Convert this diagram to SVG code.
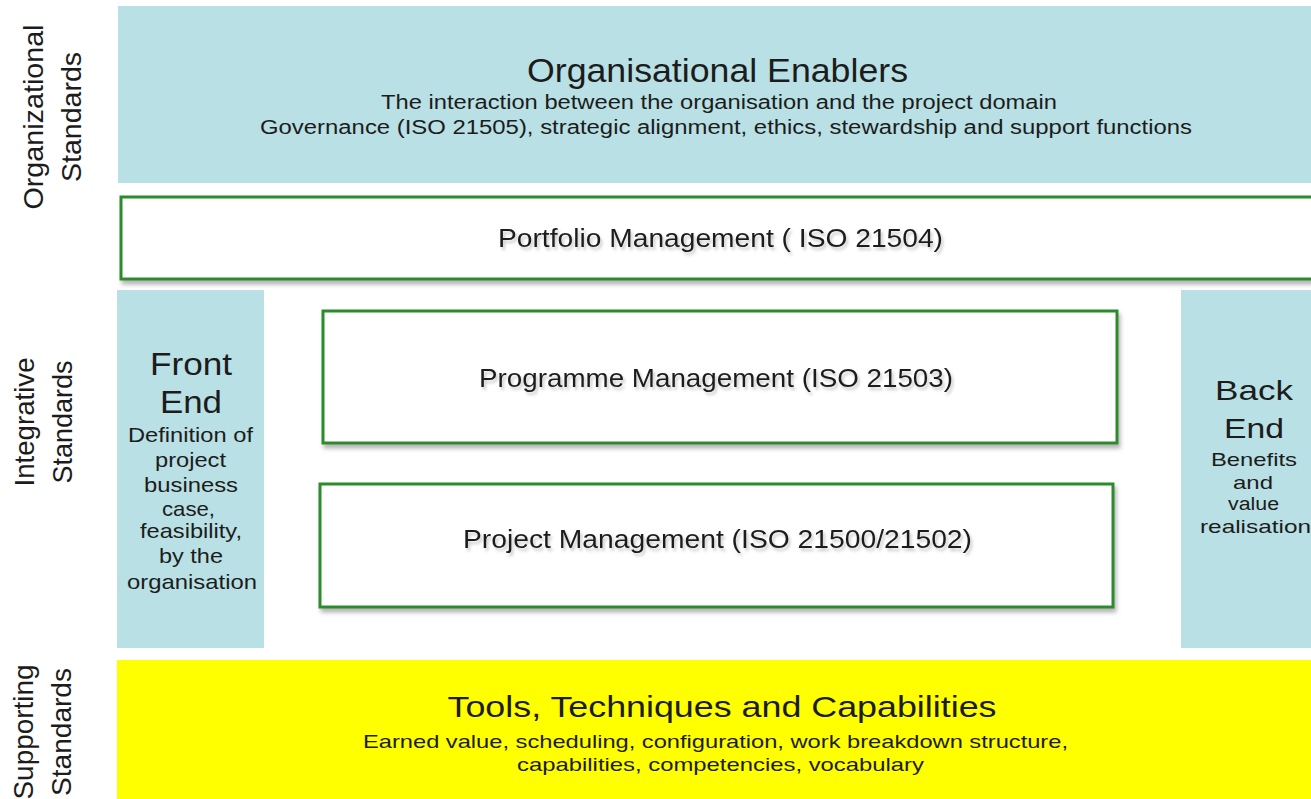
<svg xmlns="http://www.w3.org/2000/svg" width="1311" height="799" viewBox="0 0 1311 799">
<defs>
<style>
text{font-family:"Liberation Sans",Arial,sans-serif;fill:#1c1c1c;text-anchor:middle}
.blue{fill:#b9e0e4}
.yellow{fill:#ffff00}
.green{fill:#ffffff;stroke:#2a8c2a;stroke-width:3}
.side{font-size:28px}
.sh{filter:url(#tsh)}
</style>
<filter id="bsh" x="-5%" y="-20%" width="112%" height="150%">
<feDropShadow dx="2" dy="4" stdDeviation="2" flood-color="#777" flood-opacity="0.55"/>
</filter>
<filter id="tsh" x="-5%" y="-30%" width="110%" height="170%">
<feDropShadow dx="2" dy="3" stdDeviation="1.5" flood-color="#666" flood-opacity="0.35"/>
</filter>
</defs>
<rect width="1311" height="799" fill="#ffffff"/>

<g id="label-organizational">
<text class="side" transform="translate(43,117) rotate(-90)" textLength="185" lengthAdjust="spacingAndGlyphs">Organizational</text>
<text class="side" transform="translate(81,117) rotate(-90)" textLength="130" lengthAdjust="spacingAndGlyphs">Standards</text>
</g>
<g id="label-integrative">
<text class="side" transform="translate(34,422) rotate(-90)" textLength="129" lengthAdjust="spacingAndGlyphs">Integrative</text>
<text class="side" transform="translate(72,422) rotate(-90)" textLength="123" lengthAdjust="spacingAndGlyphs">Standards</text>
</g>
<g id="label-supporting">
<text class="side" transform="translate(33,732) rotate(-90)" textLength="135" lengthAdjust="spacingAndGlyphs">Supporting</text>
<text class="side" transform="translate(71,732) rotate(-90)" textLength="128" lengthAdjust="spacingAndGlyphs">Standards</text>
</g>

<g id="organisational-enablers">
<rect class="blue" x="118" y="6" width="1200" height="177"/>
<text x="717.5" y="82" font-size="34" textLength="381" lengthAdjust="spacingAndGlyphs">Organisational Enablers</text>
<text x="719" y="109" font-size="19.5" textLength="676" lengthAdjust="spacingAndGlyphs">The interaction between the organisation and the project domain</text>
<text x="726" y="134" font-size="19.5" textLength="932" lengthAdjust="spacingAndGlyphs">Governance (ISO 21505), strategic alignment, ethics, stewardship and support functions</text>
</g>

<g id="portfolio-management">
<rect class="green" x="121" y="197" width="1200" height="82" filter="url(#bsh)"/>
<text class="sh" x="720.5" y="247" font-size="26" textLength="445" lengthAdjust="spacingAndGlyphs">Portfolio Management  ( ISO 21504)</text>
</g>

<g id="front-end">
<rect class="blue" x="117" y="290" width="147" height="358"/>
<text x="191" y="375" font-size="32" textLength="82" lengthAdjust="spacingAndGlyphs">Front</text>
<text x="191" y="413" font-size="32" textLength="62" lengthAdjust="spacingAndGlyphs">End</text>
<text x="190.5" y="442" font-size="21" textLength="125" lengthAdjust="spacingAndGlyphs">Definition of</text>
<text x="190.5" y="467" font-size="21" textLength="71" lengthAdjust="spacingAndGlyphs">project</text>
<text x="191" y="492" font-size="21" textLength="94" lengthAdjust="spacingAndGlyphs">business</text>
<text x="188.5" y="516" font-size="21" textLength="53" lengthAdjust="spacingAndGlyphs">case,</text>
<text x="191" y="538" font-size="21" textLength="102" lengthAdjust="spacingAndGlyphs">feasibility,</text>
<text x="191" y="563" font-size="21" textLength="64" lengthAdjust="spacingAndGlyphs">by the</text>
<text x="192" y="589" font-size="21" textLength="130" lengthAdjust="spacingAndGlyphs">organisation</text>
</g>

<g id="programme-management">
<rect class="green" x="323" y="311" width="794" height="132" filter="url(#bsh)"/>
<text class="sh" x="716" y="387" font-size="26" textLength="474" lengthAdjust="spacingAndGlyphs">Programme Management (ISO 21503)</text>
</g>

<g id="project-management">
<rect class="green" x="320" y="484" width="793" height="123" filter="url(#bsh)"/>
<text class="sh" x="717.5" y="548" font-size="26" textLength="509" lengthAdjust="spacingAndGlyphs">Project Management  (ISO 21500/21502)</text>
</g>

<g id="back-end">
<rect class="blue" x="1181" y="290" width="135" height="358"/>
<text x="1254" y="400" font-size="28" textLength="78" lengthAdjust="spacingAndGlyphs">Back</text>
<text x="1254" y="438" font-size="28" textLength="60" lengthAdjust="spacingAndGlyphs">End</text>
<text x="1254" y="466" font-size="19" textLength="86" lengthAdjust="spacingAndGlyphs">Benefits</text>
<text x="1253" y="489" font-size="19" textLength="40" lengthAdjust="spacingAndGlyphs">and</text>
<text x="1253.5" y="510" font-size="18" textLength="51" lengthAdjust="spacingAndGlyphs">value</text>
<text x="1255.5" y="533" font-size="19" textLength="111" lengthAdjust="spacingAndGlyphs">realisation</text>
</g>

<g id="tools-techniques">
<rect class="yellow" x="117" y="660" width="1200" height="145"/>
<text x="722" y="717" font-size="30" textLength="549" lengthAdjust="spacingAndGlyphs">Tools, Techniques and Capabilities</text>
<text x="715.5" y="748" font-size="19" textLength="705" lengthAdjust="spacingAndGlyphs">Earned value, scheduling, configuration, work breakdown structure,</text>
<text x="720.5" y="771" font-size="19" textLength="407" lengthAdjust="spacingAndGlyphs">capabilities, competencies, vocabulary</text>
</g>

<g id="connectors"></g>
</svg>
